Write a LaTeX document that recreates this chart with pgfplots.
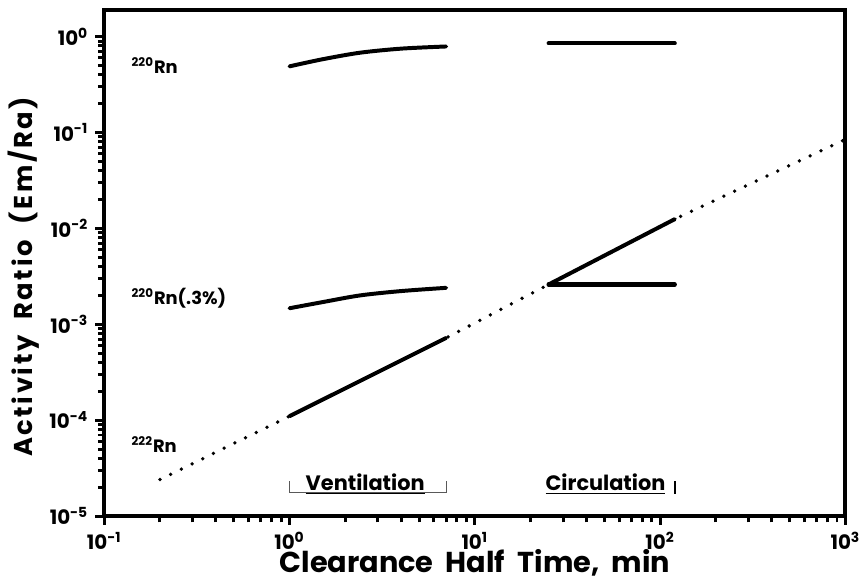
\documentclass[border=0pt]{standalone}
\usepackage{pgfplots}
\pgfplotsset{compat=1.18}
\usepackage{fontspec}
\setmainfont{Poppins}

% curve data (clearance half time in min, activity ratio Em/Ra)
\pgfplotstableread{
x y
1   0.49
1.5 0.58
2.4 0.68
4   0.75
7   0.79
}\rnVent
\pgfplotstableread{
x y
25  0.85
120 0.85
}\rnCirc
\pgfplotstableread{
x y
1   1.47e-3
1.5 1.70e-3
2.4 2.00e-3
4   2.22e-3
7   2.40e-3
}\rnLowVent
\pgfplotstableread{
x y
25  2.6e-3
120 2.6e-3
}\rnLowCirc
\pgfplotstableread{
x y
0.2  2.4e-5
1    1.1e-4
7    7.2e-4
25   2.6e-3
120  1.25e-2
1000 0.085
}\rnTwoTwoTwo
\pgfplotstableread{
x y
1    1.1e-4
7    7.2e-4
}\rnTwoVent
\pgfplotstableread{
x y
25   2.6e-3
120  1.25e-2
}\rnTwoCirc

\begin{document}
\begin{tikzpicture}
\begin{loglogaxis}[
  scale only axis,
  width=373.5pt, height=255pt,
  xmin=0.1, xmax=1000,
  ymin=1e-5, ymax=1.9,
  axis line style={line width=2pt},
  tick align=outside,
  xtick pos=bottom, ytick pos=left,
  major tick length=4.5pt, minor tick length=3.2pt,
  every tick/.style={line width=1.5pt, black},
  xtick={0.1,1,10,100,1000},
  xticklabels={10\textsuperscript{-1},10\textsuperscript{0},10\textsuperscript{1},10\textsuperscript{2},10\textsuperscript{3}},
  ytick={1e-5,1e-4,1e-3,1e-2,1e-1,1},
  yticklabels={10\textsuperscript{-5},10\textsuperscript{-4},10\textsuperscript{-3},10\textsuperscript{-2},10\textsuperscript{-1},10\textsuperscript{0}},
  ticklabel style={font=\fontsize{10}{12}\selectfont\bfseries},
  xlabel={Clearance\ \ Half\ \ Time,\ \ min},
  ylabel={Activity\ \ Ratio\ \ (Em/Ra)},
  xlabel style={font=\fontsize{14.5}{16}\selectfont\bfseries, yshift=7pt},
  ylabel style={font=\fontsize{13}{15}\selectfont\bfseries\addfontfeature{LetterSpace=10}, yshift=-2pt, xshift=-7pt},
  clip=false,
]
% 222Rn, full range dotted
\addplot[black, line width=1.9pt, line cap=round, dash pattern=on 0pt off 6pt] table {\rnTwoTwoTwo};
% solid segments
\addplot[black, line width=2pt, line cap=round] table {\rnTwoVent};
\addplot[black, line width=2pt, line cap=round] table {\rnTwoCirc};
\addplot[black, line width=2pt, line cap=round, smooth] table {\rnVent};
\addplot[black, line width=2pt, line cap=round] table {\rnCirc};
\addplot[black, line width=2pt, line cap=round, smooth] table {\rnLowVent};
\addplot[black, line width=2.1pt, line cap=round] table {\rnLowCirc};

% curve labels
\node[anchor=base west, font=\fontsize{9}{10}\selectfont\bfseries, inner sep=0pt]
  at (axis cs:0.14,0.41) {\textsuperscript{220}Rn};
\node[anchor=base west, font=\fontsize{9}{10}\selectfont\bfseries, inner sep=0pt]
  at (axis cs:0.14,1.6e-3) {\textsuperscript{220}Rn(.3\%)};
\node[anchor=base west, font=\fontsize{9}{10}\selectfont\bfseries, inner sep=0pt]
  at (axis cs:0.14,4.55e-5) {\textsuperscript{222}Rn};

% regime brackets
\draw[gray!70!black, line width=0.6pt] (axis cs:1,2.3e-5) -- (axis cs:1,1.75e-5) -- (axis cs:7,1.75e-5) -- (axis cs:7,2.3e-5);
\node[anchor=base, font=\fontsize{10.5}{12}\selectfont\bfseries, inner sep=0pt]
  at (axis cs:2.56,1.84e-5) {\underline{Ventilation}};
\node[anchor=base, font=\fontsize{10.5}{12}\selectfont\bfseries, inner sep=0pt]
  at (axis cs:50.7,1.84e-5) {\underline{Circulation}};
\draw[black, line width=0.8pt] (axis cs:120,2.3e-5) -- (axis cs:120,1.7e-5);
\end{loglogaxis}
% page extent
\path (current axis.south west) ++(-52.5pt,-32.5pt);
\path (current axis.north east) ++(7.5pt,5pt);
\end{tikzpicture}
\end{document}
